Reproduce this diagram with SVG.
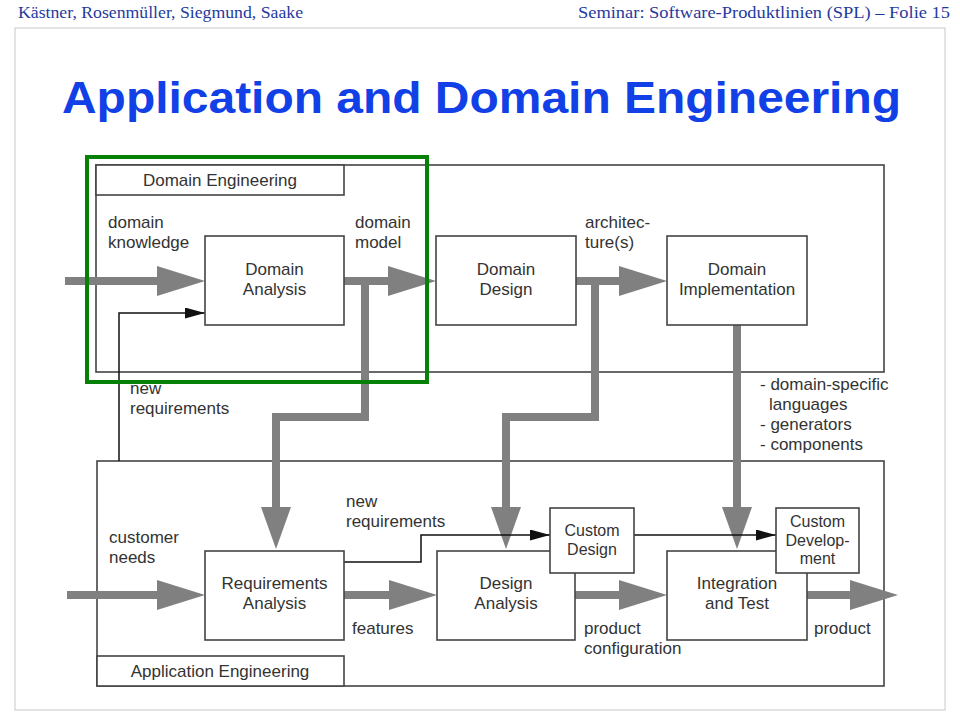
<svg xmlns="http://www.w3.org/2000/svg" width="960" height="720" viewBox="0 0 960 720">
<style>
.hdr{font-family:"Liberation Serif","Times New Roman",serif;font-size:17px;fill:#1f3a9e}
.title{font-family:"Liberation Sans",Arial,sans-serif;font-size:44px;font-weight:bold;fill:#1040e6}
.t{font-family:"Liberation Sans",Arial,sans-serif;font-size:17px;fill:#333}
.ts{font-family:"Liberation Sans",Arial,sans-serif;font-size:16px;fill:#333}
.c{text-anchor:middle}
.box{fill:#fff;stroke:#444;stroke-width:1.6}
.frame{fill:none;stroke:#444;stroke-width:1.6}
.thick{fill:none;stroke:#808080;stroke-width:8;stroke-linejoin:miter}
.thin{fill:none;stroke:#111;stroke-width:1.5}
</style>
<defs>
<marker id="hh" markerUnits="userSpaceOnUse" markerWidth="48" markerHeight="30" viewBox="0 0 48 30" refX="4" refY="15" orient="auto"><path d="M0,0 L48,15 L0,30 z" fill="#808080"/></marker>
<marker id="hv" markerUnits="userSpaceOnUse" markerWidth="42" markerHeight="30" viewBox="0 0 42 30" refX="2" refY="15" orient="auto"><path d="M0,0 L42,15 L0,30 z" fill="#808080"/></marker>
<marker id="ht" markerUnits="userSpaceOnUse" markerWidth="20" markerHeight="11" viewBox="0 0 20 11" refX="20" refY="5.5" orient="auto"><path d="M0,0 L20,5.5 L0,11 z" fill="#111"/></marker>
</defs>
<rect width="960" height="720" fill="#fff"/>
<rect x="15" y="28" width="930" height="682" fill="none" stroke="#c8c8c8" stroke-width="1"/>
<text class="hdr" x="18" y="18" textLength="285" lengthAdjust="spacingAndGlyphs">Kästner, Rosenmüller, Siegmund, Saake</text>
<text class="hdr" x="578" y="18" textLength="372" lengthAdjust="spacingAndGlyphs">Seminar: Software-Produktlinien (SPL) – Folie 15</text>
<text class="title" x="62" y="113" textLength="839" lengthAdjust="spacingAndGlyphs">Application and Domain Engineering</text>

<g id="domain-engineering">
<rect class="frame" x="96" y="165" width="788" height="207"/>
<rect class="box" x="96" y="165" width="248" height="30"/>
<text class="t c" x="220" y="186">Domain Engineering</text>
</g>
<g id="application-engineering">
<rect class="frame" x="97" y="461" width="787" height="225"/>
<rect class="box" x="97" y="656" width="247" height="30"/>
<text class="t c" x="220" y="677">Application Engineering</text>
</g>

<g id="connectors">
<path class="thick" d="M65,281 H161" marker-end="url(#hh)"/>
<path class="thick" d="M344,281 H392" marker-end="url(#hh)"/>
<path class="thick" d="M576,281 H623" marker-end="url(#hh)"/>
<path class="thick" d="M365,281 V417 H276 V509" marker-end="url(#hv)"/>
<path class="thick" d="M595,281 V417 H506 V509" marker-end="url(#hv)"/>
<path class="thick" d="M737,325 V509" marker-end="url(#hv)"/>
<path class="thick" d="M67,595 H161" marker-end="url(#hh)"/>
<path class="thick" d="M344,595 H393" marker-end="url(#hh)"/>
<path class="thick" d="M575,595 H623" marker-end="url(#hh)"/>
<path class="thick" d="M807,595 H854" marker-end="url(#hh)"/>
<path class="thin" d="M119,461 V313 H205" marker-end="url(#ht)"/>
<path class="thin" d="M344,562 H421 V535 H550" marker-end="url(#ht)"/>
<path class="thin" d="M634,535 H776" marker-end="url(#ht)"/>
</g>

<g id="domain-analysis">
<rect class="box" x="205" y="236" width="139" height="89"/>
<text class="t c" x="274.5" y="275">Domain</text>
<text class="t c" x="274.5" y="295">Analysis</text>
</g>
<g id="domain-design">
<rect class="box" x="436" y="236" width="140" height="89"/>
<text class="t c" x="506" y="275">Domain</text>
<text class="t c" x="506" y="295">Design</text>
</g>
<g id="domain-implementation">
<rect class="box" x="667" y="236" width="140" height="89"/>
<text class="t c" x="737" y="275">Domain</text>
<text class="t c" x="737" y="295">Implementation</text>
</g>
<g id="requirements-analysis">
<rect class="box" x="205" y="551" width="139" height="89"/>
<text class="t c" x="274.5" y="589">Requirements</text>
<text class="t c" x="274.5" y="609">Analysis</text>
</g>
<g id="design-analysis">
<rect class="box" x="437" y="551" width="138" height="89"/>
<text class="t c" x="506" y="589">Design</text>
<text class="t c" x="506" y="609">Analysis</text>
</g>
<g id="custom-design">
<rect class="box" x="550" y="508" width="84" height="65"/>
<text class="ts c" x="592" y="536">Custom</text>
<text class="ts c" x="592" y="555">Design</text>
</g>
<g id="integration-and-test">
<rect class="box" x="667" y="551" width="140" height="89"/>
<text class="t c" x="737" y="589">Integration</text>
<text class="t c" x="737" y="609">and Test</text>
</g>
<g id="custom-development">
<rect class="box" x="776" y="508" width="83" height="65"/>
<text class="ts c" x="817.5" y="527">Custom</text>
<text class="ts c" x="817.5" y="546">Develop-</text>
<text class="ts c" x="817.5" y="564">ment</text>
</g>

<g id="labels">
<text class="t" x="108" y="228">domain</text>
<text class="t" x="108" y="248">knowledge</text>
<text class="t" x="355" y="228">domain</text>
<text class="t" x="355" y="248">model</text>
<text class="t" x="585" y="228">architec-</text>
<text class="t" x="585" y="248">ture(s)</text>
<text class="t" x="130" y="394">new</text>
<text class="t" x="130" y="414">requirements</text>
<text class="t" x="760" y="390">- domain-specific</text>
<text class="t" x="769" y="410">languages</text>
<text class="t" x="760" y="430">- generators</text>
<text class="t" x="760" y="450">- components</text>
<text class="t" x="346" y="507">new</text>
<text class="t" x="346" y="527">requirements</text>
<text class="t" x="109" y="543">customer</text>
<text class="t" x="109" y="563">needs</text>
<text class="t" x="352" y="634">features</text>
<text class="t" x="584" y="634">product</text>
<text class="t" x="584" y="654">configuration</text>
<text class="t" x="814" y="634">product</text>
</g>

<rect id="highlight" x="87" y="157" width="340" height="225" fill="none" stroke="#078007" stroke-width="4"/>
</svg>
